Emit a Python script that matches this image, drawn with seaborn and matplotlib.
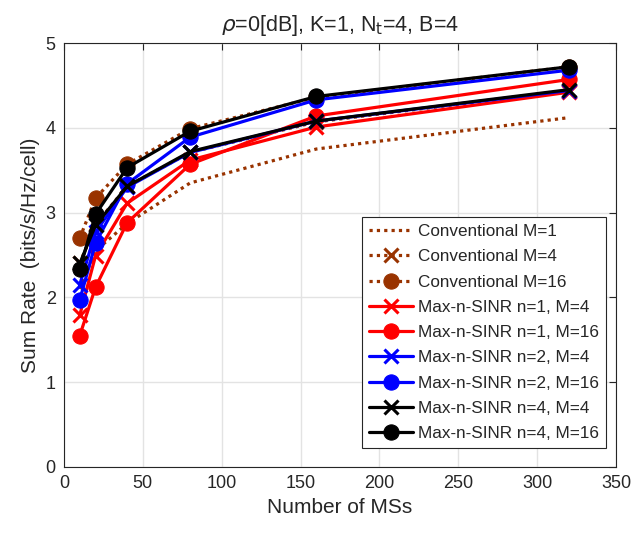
import seaborn as sns
import matplotlib.pyplot as plt
import pandas as pd
import numpy as np

# data
num_ms = [10, 20, 40, 80, 160, 320]

conv_m1 = [2.10, 2.55, 2.87, 3.35, 3.75, 4.12]
conv_m4 = [2.40, 2.86, 3.31, 3.71, 4.07, 4.44]
conv_m16 = [2.70, 3.17, 3.57, 3.99, 4.36, 4.72]
n1_m4 = [1.79, 2.49, 3.11, 3.62, 4.01, 4.42]
n1_m16 = [1.55, 2.12, 2.88, 3.57, 4.14, 4.57]
n2_m4 = [2.15, 2.77, 3.30, 3.71, 4.08, 4.44]
n2_m16 = [1.97, 2.64, 3.34, 3.89, 4.33, 4.68]
n4_m4 = [2.40, 2.85, 3.31, 3.72, 4.08, 4.45]
n4_m16 = [2.33, 2.98, 3.53, 3.96, 4.37, 4.72]

labels = ['Conventional M=1', 'Conventional M=4', 'Conventional M=16',
          'Max-n-SINR n=1, M=4', 'Max-n-SINR n=1, M=16',
          'Max-n-SINR n=2, M=4', 'Max-n-SINR n=2, M=16',
          'Max-n-SINR n=4, M=4', 'Max-n-SINR n=4, M=16']
series = [conv_m1, conv_m4, conv_m16, n1_m4, n1_m16, n2_m4, n2_m16, n4_m4, n4_m16]

brown = '#993300'
colors = [brown, brown, brown, 'red', 'red', 'blue', 'blue', 'black', 'black']
dotted = (0, (1, 1.3))
styles = [dotted, dotted, dotted, '-', '-', '-', '-', '-', '-']
markers = [None, 'x', 'o', 'x', 'o', 'x', 'o', 'x', 'o']

sns.set_style('white')
plt.rcParams['font.family'] = ['Liberation Sans', 'DejaVu Sans']
plt.rcParams['mathtext.fontset'] = 'dejavusans'

fig = plt.figure(figsize=(6.36, 5.38), dpi=100)
ax = fig.add_axes([0.1006, 0.132, 0.8680, 0.788])

for lab, vals, c, ls, mk in zip(labels, series, colors, styles, markers):
    df = pd.DataFrame({'ms': num_ms, 'rate': vals})
    kw = {}
    if mk == 'o':
        kw = dict(marker='o', markersize=11, markeredgecolor=c, markerfacecolor=c)
    elif mk == 'x':
        kw = dict(marker='x', markersize=10, markeredgewidth=2.2, markeredgecolor=c)
    sns.lineplot(data=df, x='ms', y='rate', ax=ax, color=c, linestyle=ls,
                 linewidth=2.3, label=lab, **kw)

ax.set_xlim(0, 350)
ax.set_ylim(0, 5)
ax.set_xticks(np.arange(0, 351, 50))
ax.set_yticks(np.arange(0, 6, 1))
ax.grid(True, color='#e3e3e3', linewidth=1)
ax.set_axisbelow(True)
for s in ax.spines.values():
    s.set_color('#262626')
    s.set_linewidth(0.8)
ax.tick_params(direction='in', length=5, width=0.8, top=True, right=True,
               labelsize=13, colors='#262626', pad=6)

ax.set_xlabel('Number of MSs', fontsize=15, color='#262626')
ax.set_ylabel('Sum Rate  (bits/s/Hz/cell)', fontsize=15, color='#262626')
ax.set_title(r'$\rho$=0[dB], K=1, N$_{\mathrm{t}}$=4, B=4', fontsize=15.5, pad=9)

leg = ax.legend(loc='lower right', bbox_to_anchor=(0.982, 0.045), fontsize=12.3,
                fancybox=False, framealpha=1, edgecolor='#262626',
                handlelength=2.6, labelspacing=0.6, borderpad=0.4,
                handletextpad=0.3, borderaxespad=0)
leg.get_frame().set_linewidth(0.8)

fig.savefig('out.png', dpi=100)
